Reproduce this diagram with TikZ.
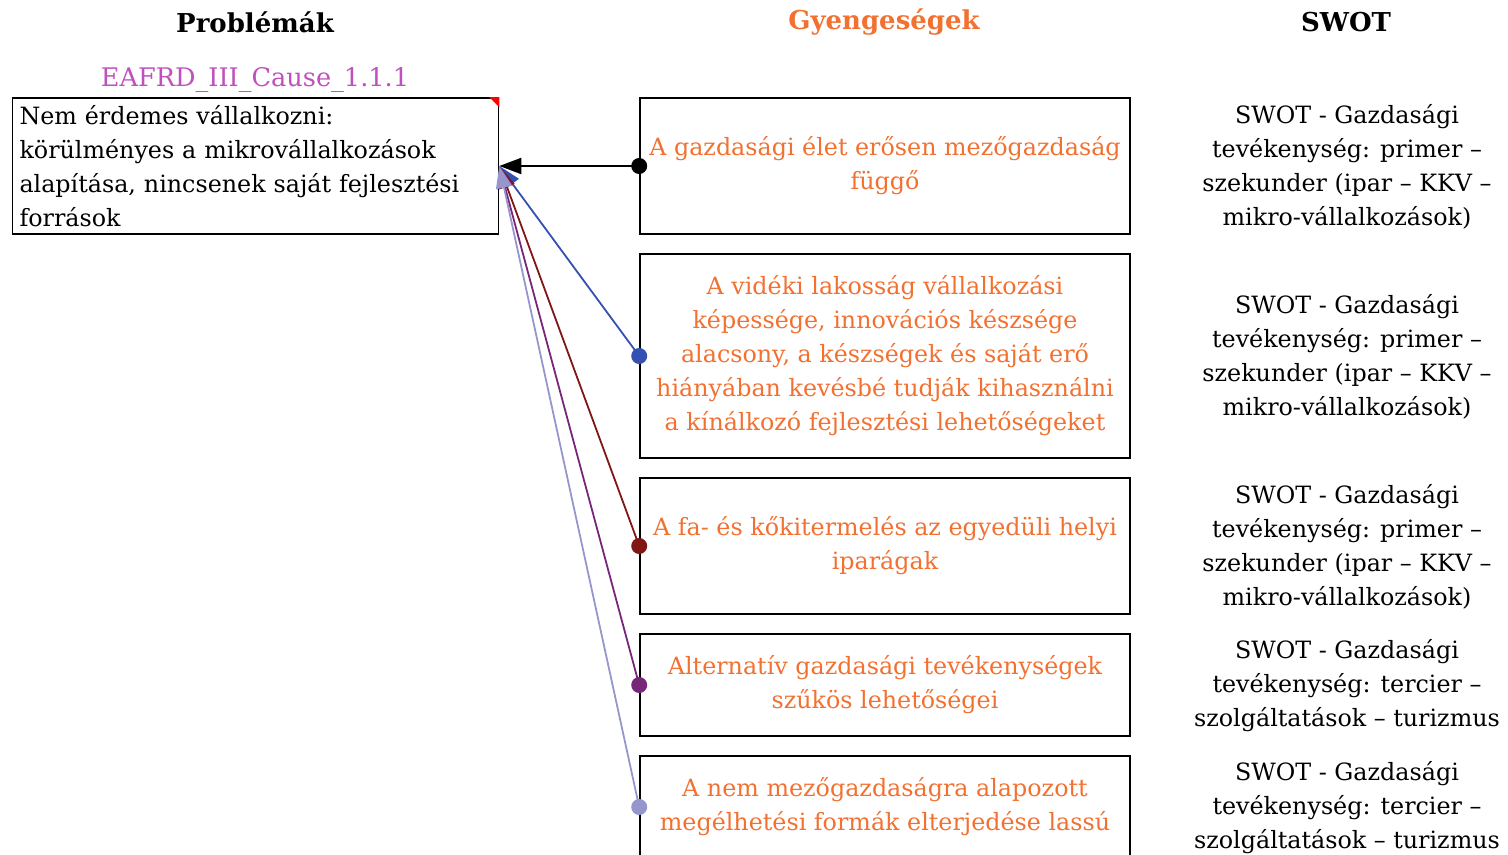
\documentclass[tikz,border=0pt]{standalone}
\usepackage{fontspec}
\setmainfont{DejaVu Serif}
\usetikzlibrary{arrows.meta}
\usetikzlibrary{calc}

\definecolor{weakorange}{RGB}{242,112,48}
\definecolor{causepink}{RGB}{192,80,192}
\definecolor{linkblue}{RGB}{52,80,176}
\definecolor{linkred}{RGB}{128,22,22}
\definecolor{linkpurple}{RGB}{120,38,122}
\definecolor{linklilac}{RGB}{150,150,204}

\begin{document}
\begin{tikzpicture}[x=0.5pt,y=-0.5pt,
    every node/.style={font=\fontsize{11.9pt}{17pt}\selectfont},
    head/.style={font=\fontsize{13pt}{17pt}\selectfont\bfseries},
    probbox/.style={draw,line width=0.8pt,text width=236pt,inner xsep=3.5pt,minimum height=68pt,align=left},
    weakbox/.style={draw,line width=0.8pt,minimum width=245pt,align=center,text=weakorange},
    swotnote/.style={align=center},
    link/.style={line width=0.9pt,-{Triangle[length=11pt,width=8pt]}}]
                \clip (0,0) rectangle (1508,855);
                \node[head] (hprob) at (255,22) {Problémák};
                \node[head,text=weakorange] (hweak) at (884,22) {Gyengeségek};
                \node[head] (hswot) at (1346,22) {SWOT};
                \node[text=causepink,font=\fontsize{12.8pt}{17pt}\selectfont] (cause) at (255,80) {EAFRD\_III\_Cause\_1.1.1};
                \node[probbox] (P) at (255.5,166) {Nem érdemes vállalkozni:\\körülményes a mikrovállalkozások\\alapítása,  nincsenek saját fejlesztési\\források};
                \fill[red] (P.north east) -- ++(-10,0) -- ++(10,10) -- cycle;
                \node[weakbox,minimum height=68pt] (W1) at (885,166) {A gazdasági élet erősen mezőgazdaság\\függő};
                \node[weakbox,minimum height=102pt] (W2) at (885,356) {A vidéki lakosság vállalkozási\\képessége, innovációs készsége\\alacsony, a készségek és saját erő\\hiányában kevésbé tudják kihasználni\\a kínálkozó fejlesztési lehetőségeket};
                \node[weakbox,minimum height=68pt] (W3) at (885,546) {A fa- és kőkitermelés az egyedüli helyi\\iparágak};
                \node[weakbox,minimum height=51pt] (W4) at (885,685) {Alternatív gazdasági tevékenységek\\szűkös lehetőségei};
                \node[weakbox,minimum height=51pt] (W5) at (885,807) {A nem mezőgazdaságra alapozott\\megélhetési formák elterjedése lassú};
                \node[swotnote] (S1) at (1347,167) {SWOT - Gazdasági\\tevékenység: primer –\\szekunder (ipar – KKV –\\mikro-vállalkozások)};
                \node[swotnote] (S2) at (1347,357) {SWOT - Gazdasági\\tevékenység: primer –\\szekunder (ipar – KKV –\\mikro-vállalkozások)};
                \node[swotnote] (S3) at (1347,547) {SWOT - Gazdasági\\tevékenység: primer –\\szekunder (ipar – KKV –\\mikro-vállalkozások)};
                \node[swotnote] (S4) at (1347,686) {SWOT - Gazdasági\\tevékenység: tercier –\\szolgáltatások – turizmus};
                \node[swotnote] (S5) at (1347,808) {SWOT - Gazdasági\\tevékenység: tercier –\\szolgáltatások – turizmus};
                \draw[link,black,line width=1pt] (W1.west) -- (P.east);
                \draw[link,linkblue] (W2.west) -- (P.east);
                \draw[link,linkred] (W3.west) -- (P.east);
                \draw[link,linkpurple] (W4.west) -- (P.east);
                \draw[link,linklilac] (W5.west) -- (P.east);
                \fill[black] (W1.west) circle (4pt);
                \fill[linkblue] (W2.west) circle (4pt);
                \fill[linkred] (W3.west) circle (4pt);
                \fill[linkpurple] (W4.west) circle (4pt);
                \fill[linklilac] (W5.west) circle (4pt);
            \end{tikzpicture}
\end{document}
